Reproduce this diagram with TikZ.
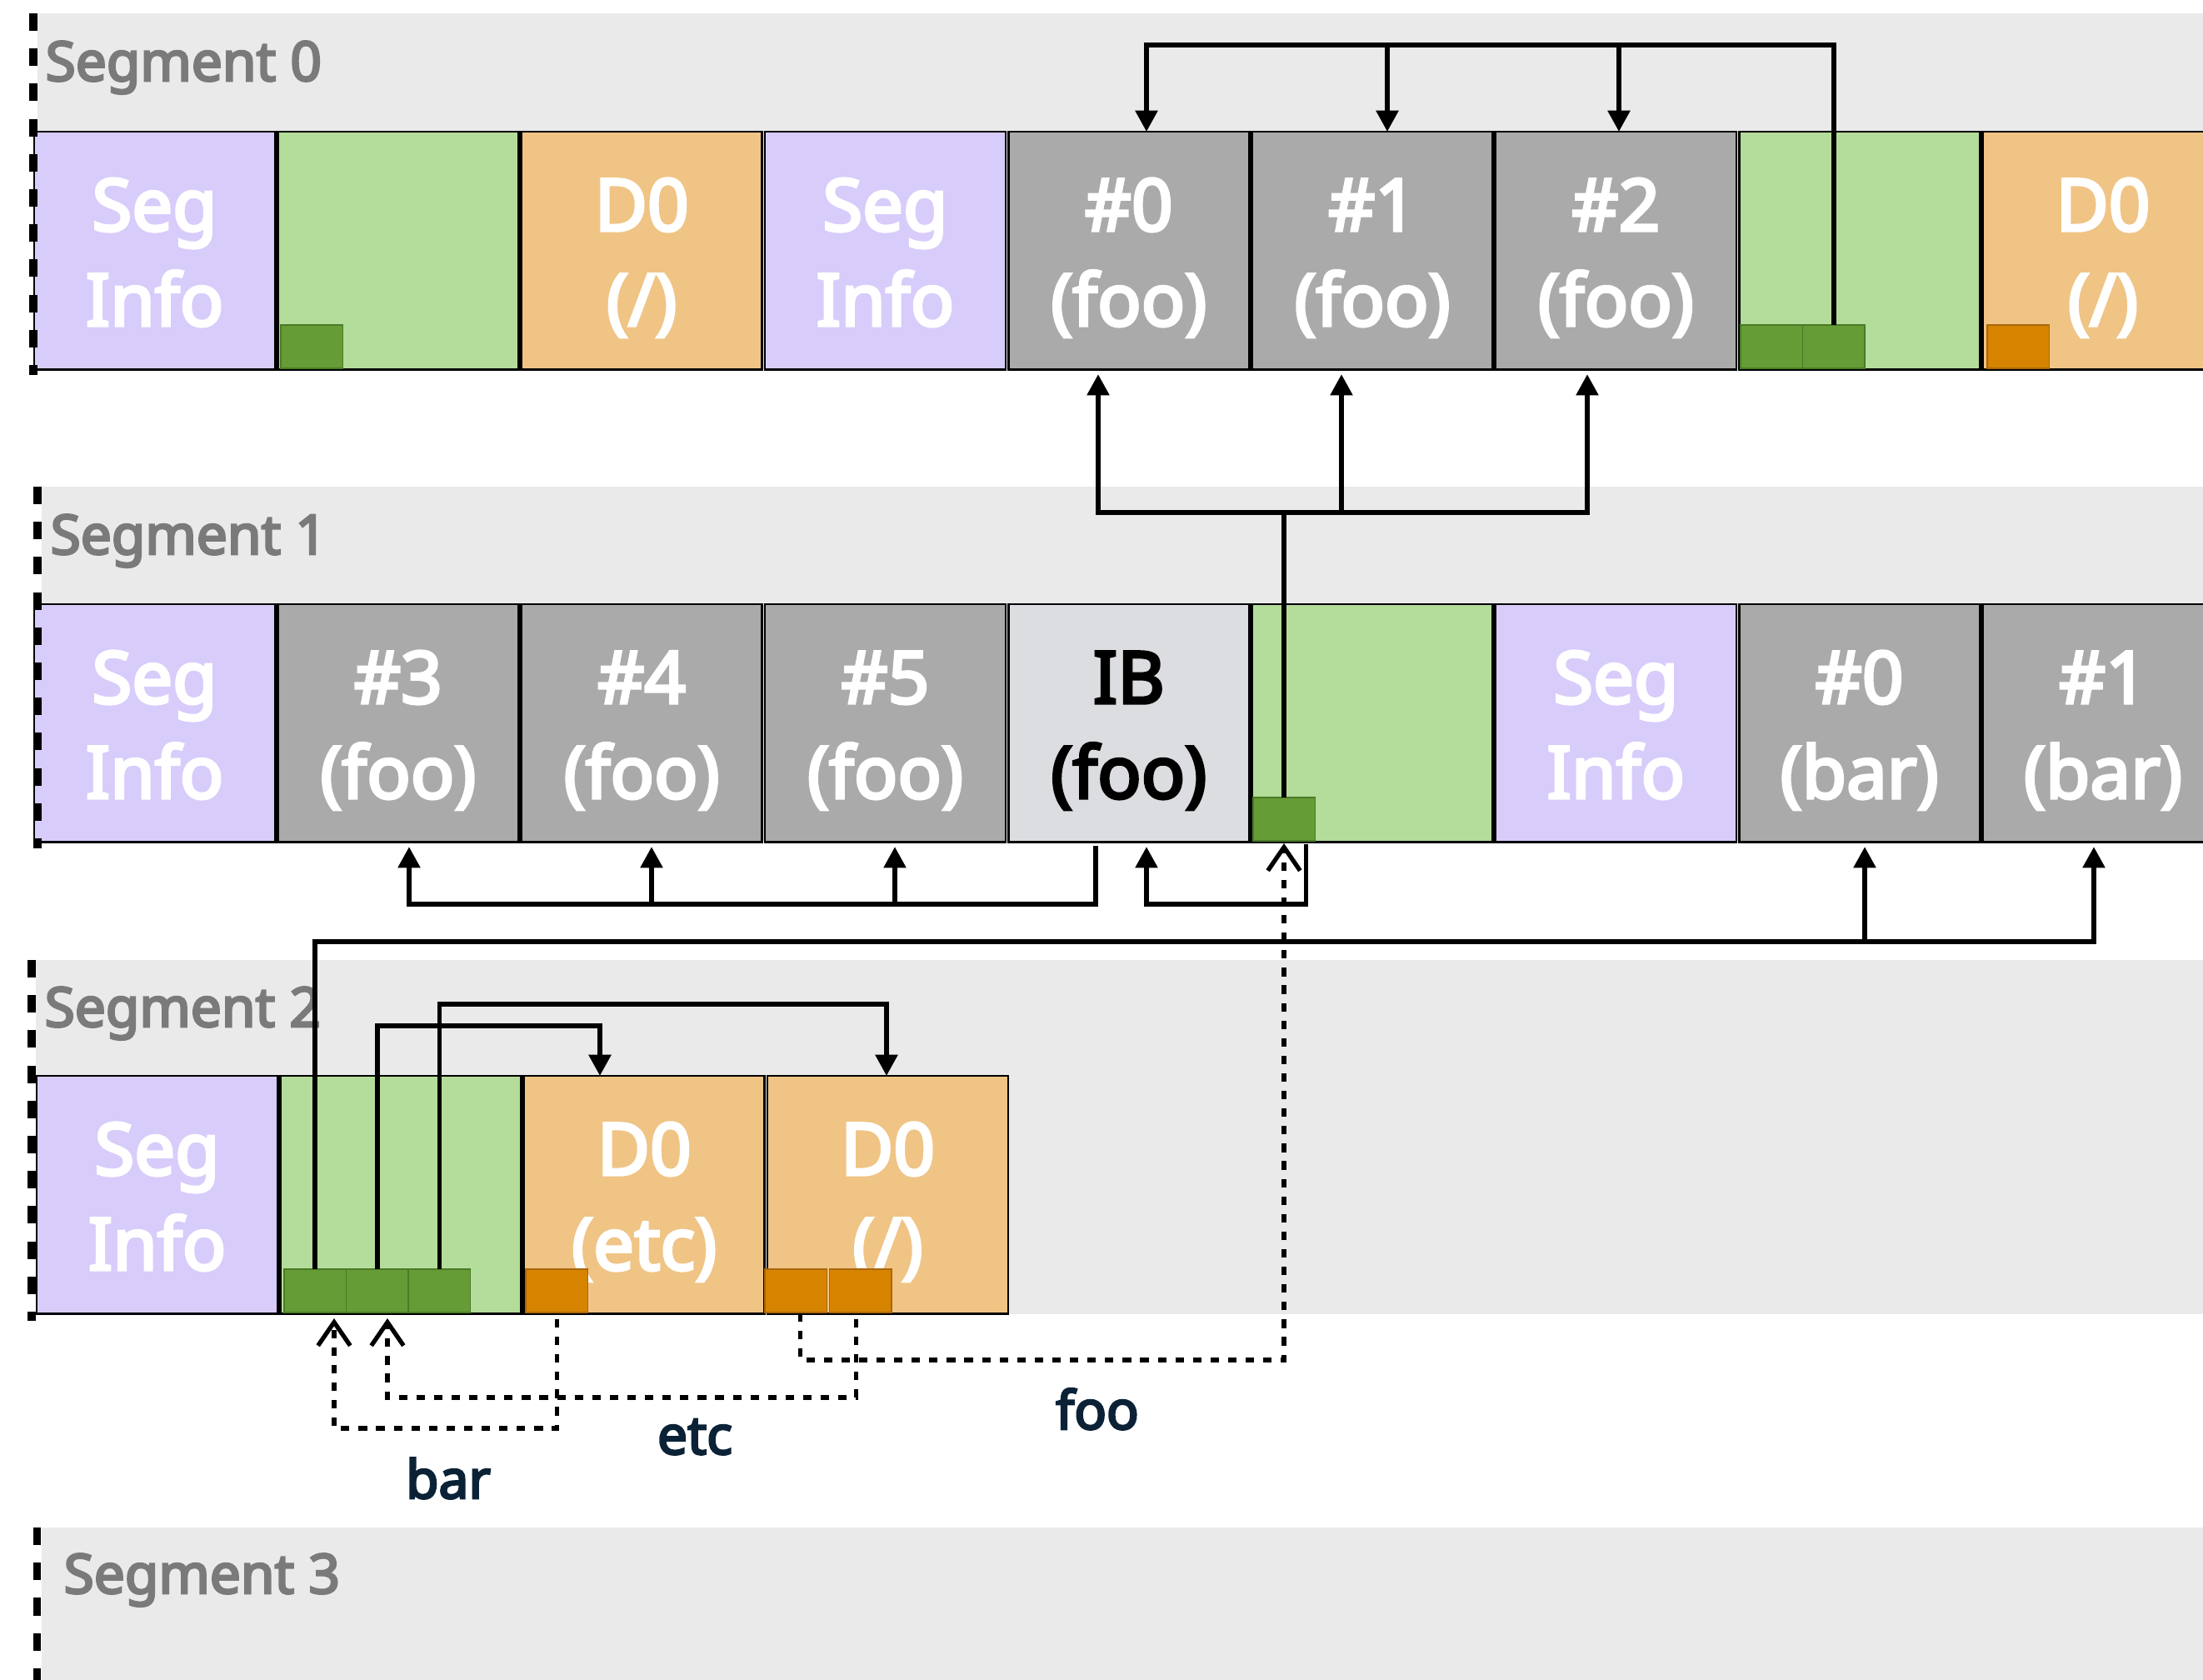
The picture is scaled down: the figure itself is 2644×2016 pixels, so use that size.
\documentclass[tikz,border=0pt]{standalone}
\usepackage{fontspec}
\setmainfont{Noto Sans}
\newfontfamily\semib{Noto Sans}[FakeBold=4]
\usetikzlibrary{arrows.meta,calc}
\definecolor{bandc}{HTML}{EAEAEA}
\definecolor{segc}{HTML}{D8CCFB}
\definecolor{greenc}{HTML}{B4DC9A}
\definecolor{orangec}{HTML}{F0C485}
\definecolor{greyc}{HTML}{AAAAAA}
\definecolor{ibc}{HTML}{DCDDE0}
\definecolor{gsqc}{HTML}{669C35}
\definecolor{gsqd}{HTML}{4B7A27}
\definecolor{osqc}{HTML}{D68400}
\definecolor{osqd}{HTML}{A8670A}
\definecolor{labgray}{HTML}{7A7A7A}
\definecolor{navy}{HTML}{0B2236}
\newcommand\blk[6]{%
  \node[blkbox,#4,anchor=north west] (#1) at (#2,#3) {};
  \node[blktxt,anchor=base] (#1-a) at ($(#1.north)+(0,119)$) {#5};
  \node[blktxt,anchor=base] (#1-b) at ($(#1.north)+(0,233)$) {#6};
}
\newcommand\blkE[4]{%
  \node[blkbox,#4,anchor=north west] (#1) at (#2,#3) {};
}
\begin{document}
\begin{tikzpicture}[x=0.01cm,y=-0.01cm,
  blkbox/.style={draw=black, line width=0.8pt, minimum width=2.89cm, minimum height=2.85cm, inner sep=0pt, outer sep=0pt},
  seginfo/.style={fill=segc},
  greenb/.style={fill=greenc},
  orangeb/.style={fill=orangec},
  greyb/.style={fill=greyc},
  ibb/.style={fill=ibc},
  blktxt/.style={font=\semib\fontsize{24.7pt}{30pt}\selectfont, text=white, inner sep=0pt},
  gsq/.style={draw=gsqd, line width=0.35pt, fill=gsqc, minimum width=0.745cm, minimum height=0.52cm, inner sep=0pt, outer sep=0pt},
  osq/.style={draw=osqd, line width=0.35pt, fill=osqc, minimum width=0.745cm, minimum height=0.52cm, inner sep=0pt, outer sep=0pt},
  conn/.style={draw=black, line width=1.6pt},
  tipA/.style={-{Triangle[length=7.2pt,width=7.4pt]}},
  dotc/.style={draw=black, line width=1.5pt, dash pattern=on 2.9pt off 3.1pt},
  tipO/.style={-{Straight Barb[length=8pt,width=11pt,line width=1.5pt]}},
  segdash/.style={draw=black, line width=2.56pt, dash pattern=on 6pt off 6pt},
  seglbl/.style={font=\semib\fontsize{18.7pt}{22pt}\selectfont, text=labgray, inner sep=0pt, anchor=base west},
  keylbl/.style={font=\semib\fontsize{18.2pt}{22pt}\selectfont, text=navy, inner sep=0pt, anchor=base}
]
\useasboundingbox (0,0) rectangle (2644,2016);
\fill[white] (0,0) rectangle (2644,2016);

% bands
\fill[bandc] (45,16) rectangle (2644,443);
\fill[bandc] (50,584) rectangle (2644,1010);
\fill[bandc] (43,1152) rectangle (2644,1577);
\fill[bandc] (50,1833) rectangle (2644,2016);

% segment labels
\node[seglbl] (lab0) at (54,97) {Segment 0};
\node[seglbl] (lab1) at (60,665) {Segment 1};
\node[seglbl] (lab2) at (53,1232) {Segment 2};
\node[seglbl] (lab3) at (76,1912) {Segment 3};

% row 0
\blk{r0b0}{41}{158}{seginfo}{Seg}{Info}
\blkE{r0b1}{333.3}{158}{greenb}
\blk{r0b2}{625.6}{158}{orangeb}{D0}{(/)}
\blk{r0b3}{917.9}{158}{seginfo}{Seg}{Info}
\blk{r0b4}{1210.2}{158}{greyb}{\#0}{(foo)}
\blk{r0b5}{1502.5}{158}{greyb}{\#1}{(foo)}
\blk{r0b6}{1794.8}{158}{greyb}{\#2}{(foo)}
\blkE{r0b7}{2087.1}{158}{greenb}
\blk{r0b8}{2379.4}{158}{orangeb}{D0}{(/)}

% row 1
\blk{r1b0}{41}{725}{seginfo}{Seg}{Info}
\blk{r1b1}{333.3}{725}{greyb}{\#3}{(foo)}
\blk{r1b2}{625.6}{725}{greyb}{\#4}{(foo)}
\blk{r1b3}{917.9}{725}{greyb}{\#5}{(foo)}
\node[blkbox,ibb,anchor=north west] (r1b4) at (1210.2,725) {};
\node[blktxt,text=black,anchor=base] (r1b4-a) at ($(r1b4.north)+(0,119)$) {IB};
\node[blktxt,text=black,anchor=base] (r1b4-b) at ($(r1b4.north)+(0,233)$) {(foo)};
\blkE{r1b5}{1502.5}{725}{greenb}
\blk{r1b6}{1794.8}{725}{seginfo}{Seg}{Info}
\blk{r1b7}{2087.1}{725}{greyb}{\#0}{(bar)}
\blk{r1b8}{2379.4}{725}{greyb}{\#1}{(bar)}

% row 2
\blk{r2b0}{44}{1291}{seginfo}{Seg}{Info}
\blkE{r2b1}{336.3}{1291}{greenb}
\blk{r2b2}{628.6}{1291}{orangeb}{D0}{(etc)}
\blk{r2b3}{920.9}{1291}{orangeb}{D0}{(/)}

% small squares
\node[gsq,anchor=south west] (s0a) at (337,442) {};
\node[gsq,anchor=south west] (s0b) at (2089,442) {};
\node[gsq,anchor=south west] (s0c) at (s0b.south east) {};
\node[osq,anchor=south west] (o0) at (2385,442) {};
\node[gsq,anchor=south west] (s1) at (1504,1009) {};
\node[gsq,anchor=south west] (s2a) at (341,1575) {};
\node[gsq,anchor=south west] (s2b) at (s2a.south east) {};
\node[gsq,anchor=south west] (s2c) at (s2b.south east) {};
\node[osq,anchor=south west] (o2a) at (631,1575) {};
\node[osq,anchor=south west] (o2b) at (918,1575) {};
\node[osq,anchor=south west] (o2c) at ($(o2b.south east)+(3,0)$) {};

% segment dashed borders
\draw[segdash] (40,16) -- (40,450);
\draw[segdash] (45,584) -- (45,1018);
\draw[segdash] (38,1152) -- (38,1585);
\draw[segdash] (44.5,1833) -- (44.5,2016);

% connector A (row 0)
\coordinate (A0) at (1376,54);
\coordinate (A1) at (1665,54);
\coordinate (A2) at (1943,54);
\draw[conn,tipA] (s0c.north) |- (A0) -- (A0 |- r0b4.north);
\draw[conn,tipA] (A1) -- (A1 |- r0b5.north);
\draw[conn,tipA] (A2) -- (A2 |- r0b6.north);

% connector B (row 1 -> row 0)
\coordinate (B0) at (1318,615);
\coordinate (B1) at (1610,615);
\coordinate (B2) at (1905,615);
\draw[conn,tipA] (s1.north) |- (B0) -- ($(B0 |- r0b4.south)+(0,6)$);
\draw[conn,tipA] (s1.north) |- (B2) -- ($(B2 |- r0b6.south)+(0,6)$);
\draw[conn,tipA] (B1) -- ($(B1 |- r0b5.south)+(0,6)$);

% connector C (IB -> #3 #4 #5)
\coordinate (C0) at (491,1085);
\coordinate (C1) at (782,1085);
\coordinate (C2) at (1074,1085);
\draw[conn,tipA] ($(r1b4.south west)+(105,5)$) |- (C0) -- ($(C0 |- r1b1.south)+(0,6)$);
\draw[conn,tipA] (C1) -- ($(C1 |- r1b2.south)+(0,6)$);
\draw[conn,tipA] (C2) -- ($(C2 |- r1b3.south)+(0,6)$);

% connector D (green -> IB)
\coordinate (D0) at (1376,1085);
\draw[conn,tipA] ($(s1.south east)+(-11,4)$) |- (D0) -- ($(D0 |- r1b4.south)+(0,6)$);

% connector E (row 2 -> bar)
\coordinate (E0) at (2238,1130);
\coordinate (E1) at (2513,1130);
\draw[conn,tipA] (s2a.north) |- (E1) -- ($(E1 |- r1b8.south)+(0,6)$);
\draw[conn,tipA] (E0) -- ($(E0 |- r1b7.south)+(0,6)$);

% connectors F, G (row 2)
\coordinate (F0) at (720,1231);
\draw[conn,tipA] (s2b.north) |- (F0) -- (F0 |- r2b2.north);
\coordinate (G0) at (1064,1205);
\draw[conn,tipA] (s2c.north) |- (G0) -- (G0 |- r2b3.north);

% dotted back references
\coordinate (Hb) at (401,1714);
\draw[dotc,tipO] ($(o2a.south)+(0,8)$) |- (Hb) -- ($(Hb |- s2a.south)+(0,7)$);
\coordinate (He) at (465,1677);
\draw[dotc,tipO] ($(o2c.south)+(-5,8)$) |- (He) -- ($(He |- s2b.south)+(0,7)$);
\coordinate (Hf) at (1541,1632);
\draw[dotc,tipO] ($(o2b.south)+(5,1)$) |- (Hf) -- ($(Hf |- s1.south)+(0,3)$);

% labels
\node[keylbl] (kbar) at (538,1798) {bar};
\node[keylbl] (ketc) at (834,1745) {etc};
\node[keylbl] (kfoo) at (1317,1715) {foo};
\end{tikzpicture}
\end{document}
